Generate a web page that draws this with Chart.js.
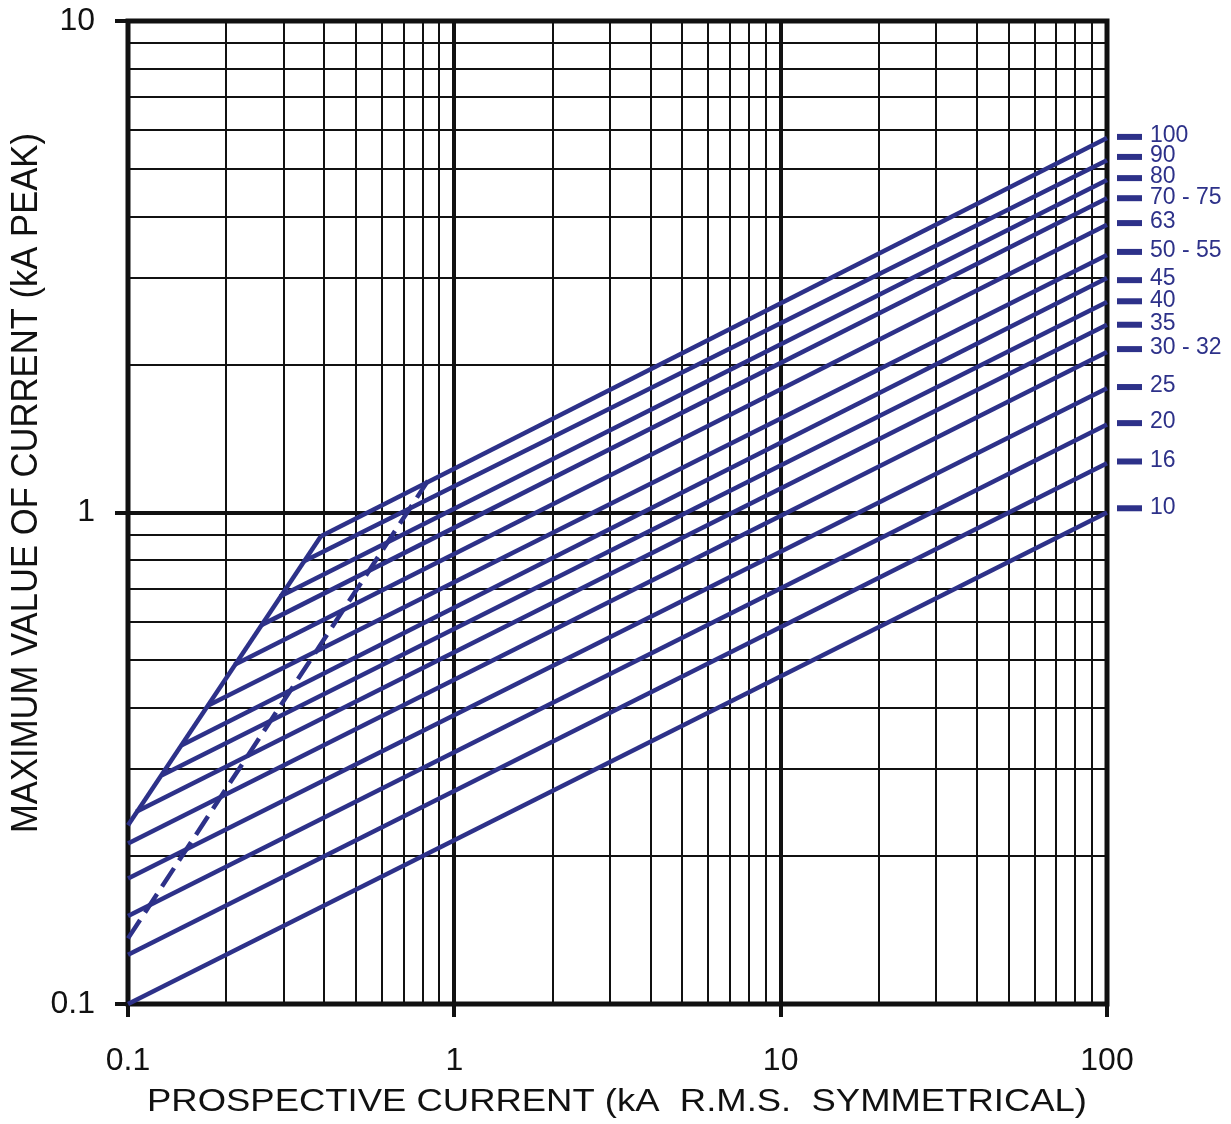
<!DOCTYPE html>
<html>
<head>
<meta charset="utf-8">
<script src="https://cdn.jsdelivr.net/npm/chart.js@4"></script>
<style>
  html, body { margin: 0; padding: 0; background: #fff; }
  #wrap { width: 1231px; height: 1124px; position: relative; }
</style>
</head>
<body>
<div id="wrap"><canvas id="chart"></canvas></div>
<script>
// fuse ratings, labelled on the right
const ratings = ['100', '90', '80', '70 - 75', '63', '50 - 55', '45', '40', '35', '30 - 32', '25', '20', '16', '10'];
// where each line leaves the envelope (or the left axis), kA
const startX = [0.39, 0.345, 0.292, 0.256, 0.212, 0.176, 0.146, 0.127, 0.106, 0.1, 0.1, 0.1, 0.1, 0.1];
const startY = [0.895, 0.795, 0.675, 0.59, 0.49, 0.405, 0.336, 0.292, 0.246, 0.212, 0.180, 0.151, 0.126, 0.1];
// cut-off peak at 100 kA prospective
const endY = [5.78, 5.21, 4.75, 4.36, 3.85, 3.34, 3.0, 2.68, 2.41, 2.12, 1.79, 1.51, 1.26, 1.0];
// right-hand marker positions
const markY = [5.81, 5.29, 4.79, 4.36, 3.88, 3.39, 2.97, 2.69, 2.41, 2.15, 1.80, 1.52, 1.27, 1.02];

// envelope on the left and the dashed line
const envX = [0.1, 0.39];
const envY = [0.231, 0.895];
const dashX = [0.1, 0.83];
const dashY = [0.136, 1.16];

// grid / tick values
const xTicks = [0.1, 0.2, 0.3, 0.4, 0.5, 0.6, 0.7, 0.8, 0.9, 1, 2, 3, 4, 5, 6, 7, 8, 9,
  10, 20, 30, 40, 50, 60, 70, 80, 90, 100];
const yTicks = [0.1, 0.2, 0.3, 0.4, 0.5, 0.6, 0.7, 0.8, 0.9, 1, 2, 3, 4, 5, 6, 7, 8, 9, 10];

const NAVY = '#2d3189';
const INK = '#111';
const FONT = '"Liberation Sans", Arial, sans-serif';

function isDecade(v) {
  const l = Math.log10(v);
  return Math.abs(l - Math.round(l)) < 1e-6;
}
function fmt(v) {
  return v < 1 ? '0.1' : String(Math.round(v));
}

const pts = (xs, ys) => xs.map((x, i) => ({ x, y: ys[i] }));

const datasets = ratings.map((r, i) => ({
  label: r,
  data: [{ x: startX[i], y: startY[i] }, { x: 100, y: endY[i] }],
  borderColor: NAVY,
  borderWidth: 4.5,
  pointRadius: 0,
  showLine: true,
  clip: false
}));
datasets.push({
  label: 'envelope',
  data: pts(envX, envY),
  borderColor: NAVY, borderWidth: 4.5, pointRadius: 0, showLine: true, clip: false
});
datasets.push({
  label: 'dashed',
  data: pts(dashX, dashY),
  borderColor: NAVY, borderWidth: 4.5, pointRadius: 0, showLine: true, clip: false,
  borderDash: [22, 9]
});

const gridFor = () => ({
  color: INK,
  lineWidth: c => (c.tick && isDecade(c.tick.value)) ? 4 : 2,
  tickLength: 13,
  tickWidth: c => (c.tick && isDecade(c.tick.value)) ? 4 : 2,
  tickColor: c => (c.tick && isDecade(c.tick.value)) ? INK : 'rgba(0,0,0,0)'
});

// text squeezed/stretched to a given width
function fitText(ctx, str, x, y, width) {
  const w = ctx.measureText(str).width;
  ctx.save();
  ctx.translate(x, y);
  ctx.scale(width / w, 1);
  ctx.fillText(str, 0, 0);
  ctx.restore();
}

// frame, right markers, axis titles
const decor = {
  id: 'decor',
  beforeDatasetsDraw(chart) {
    const { ctx, chartArea: a } = chart;
    ctx.save();
    ctx.strokeStyle = INK;
    ctx.lineWidth = 5;
    ctx.strokeRect(a.left, a.top, a.right - a.left, a.bottom - a.top);
    ctx.restore();
  },
  afterDraw(chart) {
    const { ctx, chartArea: a } = chart;
    const ys = chart.scales.y;
    ctx.save();
    // markers and labels
    ctx.strokeStyle = NAVY;
    ctx.fillStyle = NAVY;
    ctx.lineWidth = 6;
    ctx.font = '23px ' + FONT;
    ctx.textBaseline = 'middle';
    ctx.textAlign = 'left';
    markY.forEach((v, i) => {
      const py = ys.getPixelForValue(v);
      ctx.beginPath();
      ctx.moveTo(a.right + 10, py);
      ctx.lineTo(a.right + 35, py);
      ctx.stroke();
      ctx.fillText(ratings[i], a.right + 43, py - 1);
    });
    // axis titles
    ctx.fillStyle = INK;
    ctx.textAlign = 'center';
    ctx.font = '31px ' + FONT;
    fitText(ctx, 'PROSPECTIVE CURRENT (kA  R.M.S.  SYMMETRICAL)', 617, 1102, 940);
    ctx.translate(27, 483);
    ctx.rotate(-Math.PI / 2);
    ctx.font = '36px ' + FONT;
    fitText(ctx, 'MAXIMUM VALUE OF CURRENT (kA PEAK)', 0, 0, 700);
    ctx.restore();
  }
};

new Chart(document.getElementById('chart'), {
  type: 'scatter',
  data: { datasets },
  plugins: [decor],
  options: {
    responsive: true,
    maintainAspectRatio: false,
    animation: false,
    layout: { padding: { left: 0, top: 21, right: 124, bottom: 0 } },
    plugins: { legend: { display: false }, tooltip: { enabled: false } },
    scales: {
      x: {
        type: 'logarithmic',
        min: 0.1, max: 100,
        afterBuildTicks: s => { s.ticks = xTicks.map(v => ({ value: v, major: isDecade(v) })); },
        afterFit: s => { s.height = 120; s.paddingLeft = 0; s.paddingRight = 0; },
        ticks: {
          autoSkip: false, maxRotation: 0, padding: 25, color: INK,
          font: { family: FONT, size: 32 },
          callback: v => isDecade(v) ? fmt(v) : ''
        },
        grid: gridFor(),
        border: { display: false }
      },
      y: {
        type: 'logarithmic',
        min: 0.1, max: 10,
        afterBuildTicks: s => { s.ticks = yTicks.map(v => ({ value: v, major: isDecade(v) })); },
        afterFit: s => { s.width = 128; s.paddingTop = 0; s.paddingBottom = 0; },
        ticks: {
          autoSkip: false, padding: 20, color: INK,
          font: { family: FONT, size: 32 },
          callback: v => isDecade(v) ? fmt(v) : ''
        },
        grid: gridFor(),
        border: { display: false }
      }
    }
  }
});
</script>
</body>
</html>
